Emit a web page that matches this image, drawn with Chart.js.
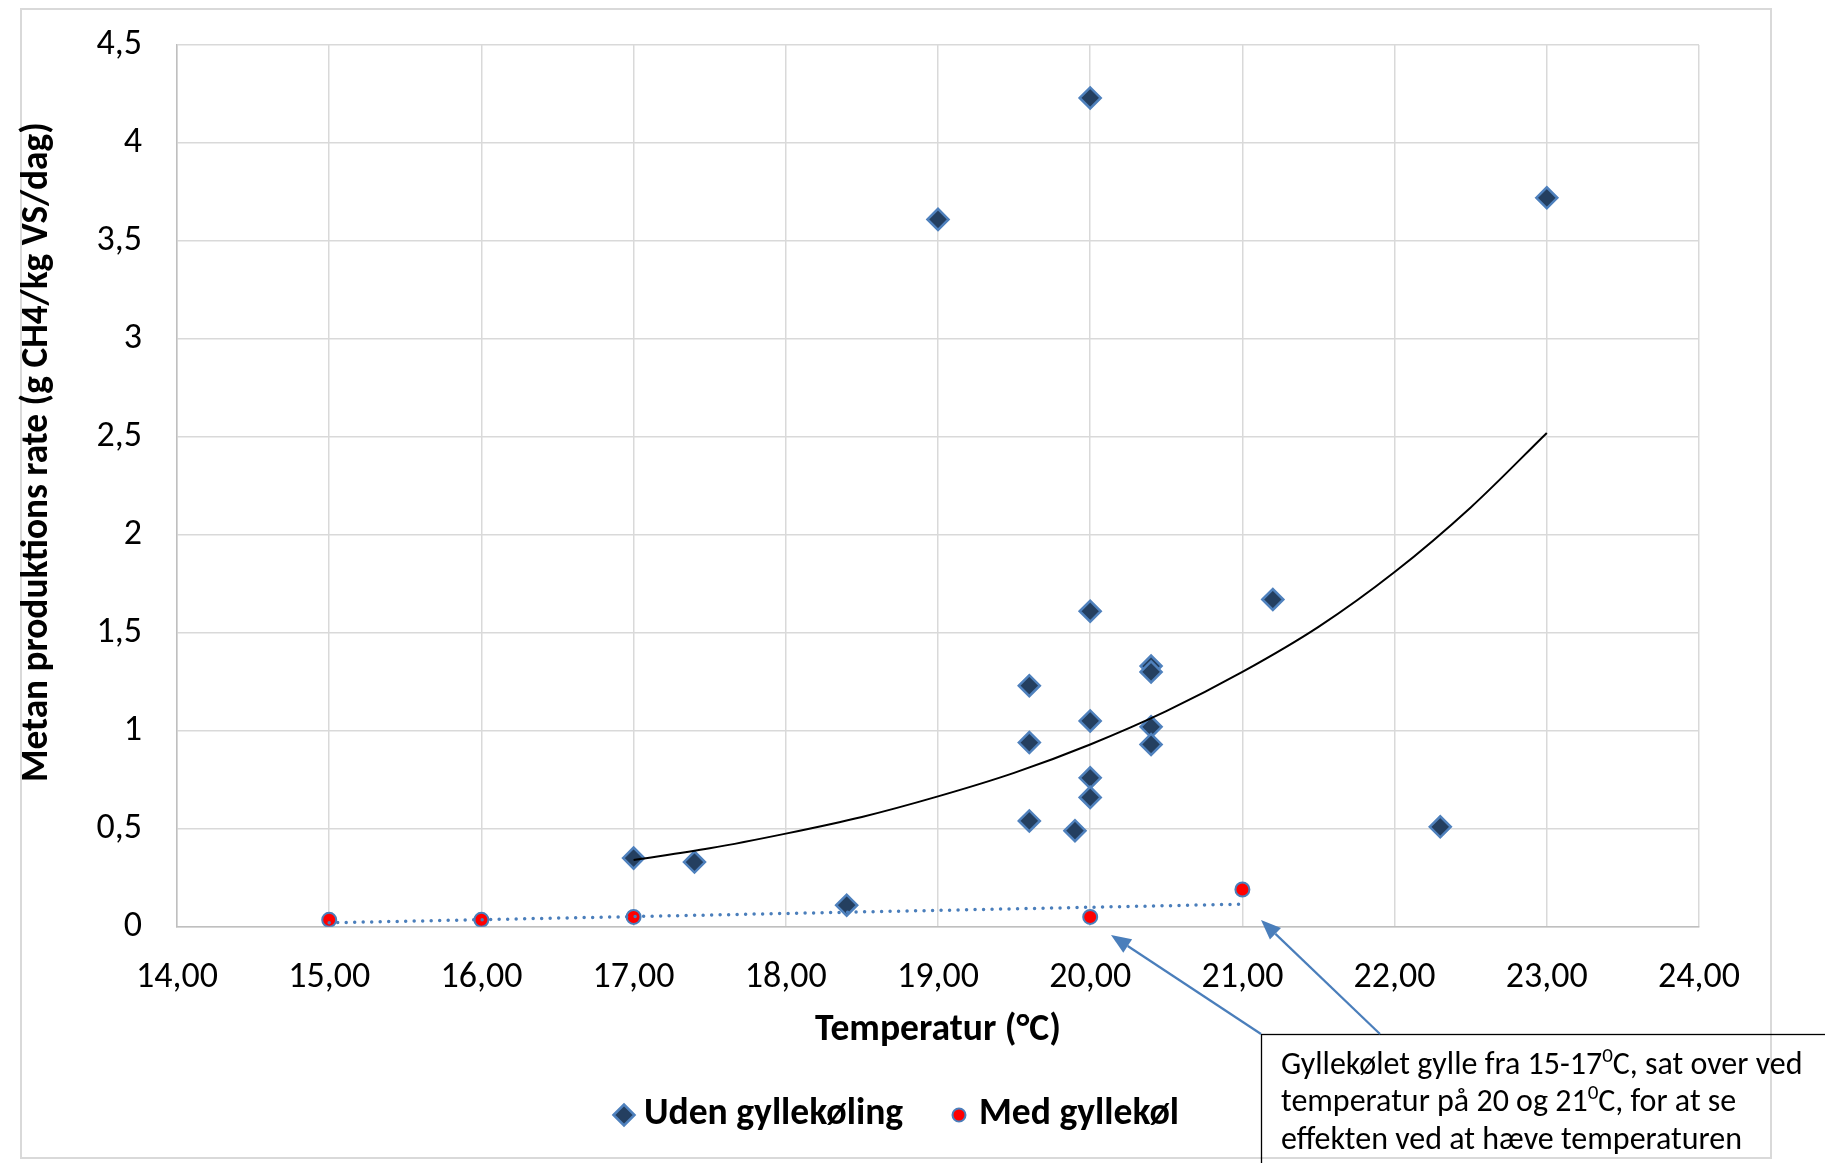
<!DOCTYPE html>
<html>
<head>
<meta charset="utf-8">
<script src="https://cdn.jsdelivr.net/npm/chart.js@4.4.1/dist/chart.umd.min.js"></script>
<style>
  html, body { margin: 0; padding: 0; background: #fff; }
  #wrap { width: 1825px; height: 1163px; position: relative; }
</style>
</head>
<body>
<div id="wrap"><canvas id="chart" width="1825" height="1163"></canvas></div>
<script>
const FONT = "Carlito, Calibri, Lato, 'Open Sans', sans-serif";

// Uden gyllekøling (temperature, rate)
const udenTemp = [17.0, 17.4, 18.4, 19.0, 19.6, 19.6, 19.6, 19.9, 20.0, 20.0, 20.0, 20.0, 20.0, 20.4, 20.4, 20.4, 20.4, 21.2, 22.3, 23.0];
const udenRate = [0.35, 0.33, 0.11, 3.61, 1.23, 0.94, 0.54, 0.49, 4.23, 1.61, 1.05, 0.76, 0.66, 1.33, 1.30, 1.02, 0.93, 1.67, 0.51, 3.72];

// Med gyllekøl
const medTemp = [15, 16, 17, 20, 21];
const medRate = [0.035, 0.035, 0.05, 0.05, 0.19];

// trend lines
const expTrendTemp = [17, 17.5, 18, 18.5, 19, 19.5, 20, 20.5, 21, 21.5, 22, 22.5, 23];
const expTrendRate = [0.34, 0.40, 0.475, 0.56, 0.665, 0.785, 0.93, 1.10, 1.30, 1.53, 1.81, 2.14, 2.52];
const linTrendTemp = [15, 21];
const linTrendRate = [0.02, 0.115];

// tick labels
const xTickLabels = ['14,00', '15,00', '16,00', '17,00', '18,00', '19,00', '20,00', '21,00', '22,00', '23,00', '24,00'];
const yTickLabels = ['0', '0,5', '1', '1,5', '2', '2,5', '3', '3,5', '4', '4,5'];

const seriesNames = ['Uden gyllekøling', 'Med gyllekøl'];

const toPoints = (xs, ys) => xs.map((x, i) => ({ x: x, y: ys[i] }));

const NAVY = '#243F60';
const EDGE = '#4F81BD';
const ARROW = '#4A7EBB';

// outer frame behind everything
const framePlugin = {
    id: 'frame',
    beforeDraw(chart) {
        const c = chart.ctx;
        c.save();
        c.fillStyle = '#fff';
        c.fillRect(0, 0, chart.width, chart.height);
        c.strokeStyle = '#D9D9D9';
        c.lineWidth = 2;
        c.strokeRect(21, 9, 1750, 1149);
        c.restore();
    }
};

function drawRich(c, parts, x, y, size) {
    let cx = x;
    parts.forEach(p => {
        if (p.sup) {
            c.font = Math.round(size * 0.65) + 'px ' + FONT;
            c.fillText(p.t, cx, y - size * 0.38);
        } else {
            c.font = size + 'px ' + FONT;
            c.fillText(p.t, cx, y);
        }
        cx += c.measureText(p.t).width;
    });
}

function arrow(c, x1, y1, x2, y2) {
    const ang = Math.atan2(y2 - y1, x2 - x1);
    const len = 20, half = 8;
    const bx = x2 - Math.cos(ang) * len, by = y2 - Math.sin(ang) * len;
    c.beginPath();
    c.moveTo(x1, y1);
    c.lineTo(bx, by);
    c.stroke();
    c.beginPath();
    c.moveTo(x2, y2);
    c.lineTo(bx + Math.sin(ang) * half, by - Math.cos(ang) * half);
    c.lineTo(bx - Math.sin(ang) * half, by + Math.cos(ang) * half);
    c.closePath();
    c.fill();
}

// legend + callout box
const extrasPlugin = {
    id: 'extras',
    afterDraw(chart) {
        const c = chart.ctx;
        const drawPoint = Chart.helpers.drawPoint;
        c.save();

        // legend
        const ly = 1115;
        c.fillStyle = NAVY; c.strokeStyle = EDGE; c.lineWidth = 2.5;
        drawPoint(c, { pointStyle: 'rectRot', radius: 10.5, rotation: 0, borderWidth: 2.5 }, 624, ly);
        c.fillStyle = '#FF0000'; c.strokeStyle = ARROW; c.lineWidth = 2;
        drawPoint(c, { pointStyle: 'circle', radius: 6.5, rotation: 0, borderWidth: 2 }, 959, ly);
        c.fillStyle = '#000';
        c.textBaseline = 'middle';
        c.textAlign = 'left';
        c.font = 'bold 37.6px ' + FONT;
        c.fillText(seriesNames[0], 644, ly);
        c.fillText(seriesNames[1], 979, ly);

        // callout
        c.strokeStyle = '#000';
        c.lineWidth = 1.3;
        c.strokeRect(1261.5, 1034.5, 700, 300);
        c.fillStyle = '#000';
        c.textBaseline = 'alphabetic';
        drawRich(c, [{ t: 'Gyllekølet gylle fra 15-17' }, { t: '0', sup: true }, { t: 'C, sat over ved' }], 1281, 1074, 32);
        drawRich(c, [{ t: 'temperatur på 20 og 21' }, { t: '0', sup: true }, { t: 'C, for at se' }], 1281, 1111, 32);
        drawRich(c, [{ t: 'effekten ved at hæve temperaturen' }], 1281, 1149, 32);

        c.strokeStyle = ARROW; c.fillStyle = ARROW; c.lineWidth = 2.2;
        arrow(c, 1261, 1034, 1111, 935);
        arrow(c, 1380, 1034, 1261, 920);
        c.restore();
    }
};

const ctx = document.getElementById('chart').getContext('2d');

new Chart(ctx, {
    type: 'scatter',
    data: {
        datasets: [
            {
                label: 'Exp trend',
                data: toPoints(expTrendTemp, expTrendRate),
                showLine: true,
                borderColor: '#000',
                borderWidth: 2,
                pointRadius: 0,
                tension: 0.4,
                cubicInterpolationMode: 'monotone',
                order: 0
            },
            {
                label: 'Lin trend',
                data: toPoints(linTrendTemp, linTrendRate),
                showLine: true,
                borderColor: ARROW,
                borderWidth: 3.5,
                borderDash: [0, 8.5],
                borderCapStyle: 'round',
                pointRadius: 0,
                order: 0
            },
            {
                label: seriesNames[0],
                data: toPoints(udenTemp, udenRate),
                pointStyle: 'rectRot',
                pointRadius: 10.5,
                backgroundColor: NAVY,
                borderColor: EDGE,
                borderWidth: 2.5,
                order: 1
            },
            {
                label: seriesNames[1],
                data: toPoints(medTemp, medRate),
                pointStyle: 'circle',
                pointRadius: 7,
                backgroundColor: '#FF0000',
                borderColor: ARROW,
                borderWidth: 2,
                order: 1
            }
        ]
    },
    options: {
        responsive: false,
        animation: false,
        layout: { padding: { left: 0, right: 126, top: 45, bottom: 0 } },
        plugins: {
            legend: { display: false },
            tooltip: { enabled: false }
        },
        scales: {
            x: {
                type: 'linear',
                min: 14, max: 24,
                ticks: {
                    stepSize: 1,
                    autoSkip: false,
                    maxRotation: 0,
                    padding: 30,
                    color: '#000',
                    font: { family: FONT, size: 36 },
                    callback: (v, i) => xTickLabels[i]
                },
                grid: { color: '#D9D9D9', lineWidth: 1.5, drawTicks: false },
                border: { color: '#BFBFBF', width: 1.5 },
                title: {
                    display: true,
                    text: 'Temperatur (°C)',
                    color: '#000',
                    font: { family: FONT, size: 37.6, weight: 'bold' },
                    padding: { top: 0, bottom: 110 }
                },
                afterFit: s => { s.height = 236.3; }
            },
            y: {
                min: 0, max: 4.5,
                ticks: {
                    stepSize: 0.5,
                    padding: 0,
                    color: '#000',
                    font: { family: FONT, size: 36 },
                    callback: (v, i) => yTickLabels[i]
                },
                // invisible tick marks push the labels left without adding top padding
                grid: { color: '#D9D9D9', lineWidth: 1.5, drawTicks: true, tickLength: 35, tickColor: 'rgba(0,0,0,0)' },
                border: { color: '#BFBFBF', width: 1.5 },
                title: {
                    display: true,
                    text: '        Metan produktions rate (g CH4/kg VS/dag)',
                    color: '#000',
                    font: { family: FONT, size: 37.3, weight: 'bold' },
                    padding: { top: 15, bottom: 0 }
                },
                afterFit: s => { s.width = 177; }
            }
        }
    },
    plugins: [framePlugin, extrasPlugin]
});
</script>
</body>
</html>
